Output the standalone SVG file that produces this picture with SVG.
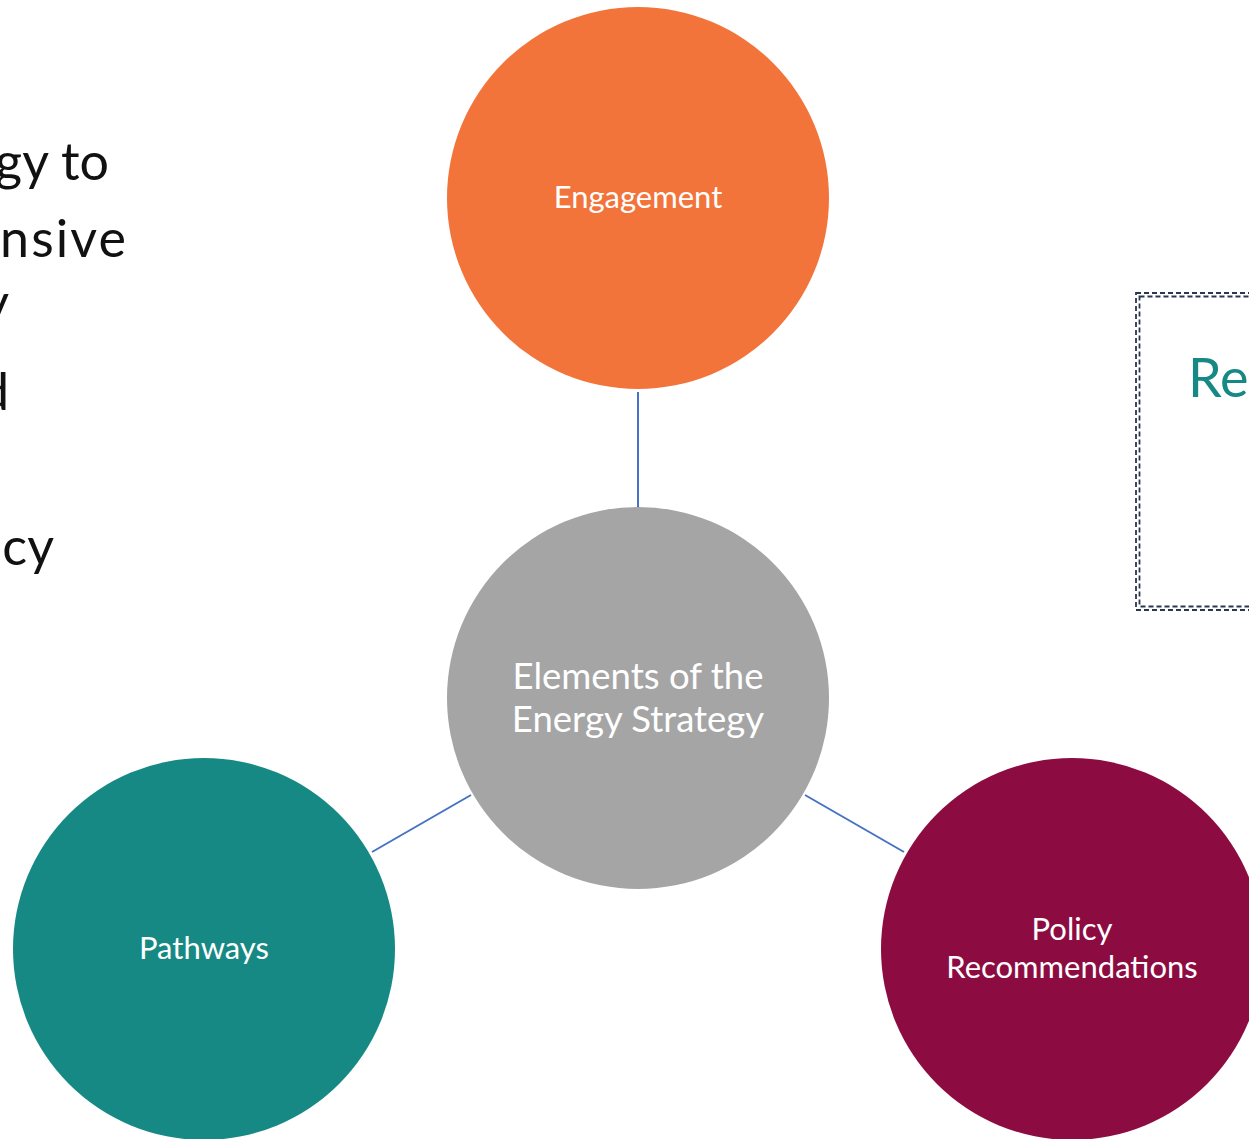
<svg xmlns="http://www.w3.org/2000/svg" width="1249" height="1139" viewBox="0 0 1249 1139">
<style>
.node-label{font-family:Lato,"Open Sans","Liberation Sans",sans-serif;fill:#ffffff;text-anchor:middle}
.body{font-family:Lato,"Open Sans","Liberation Sans",sans-serif;fill:#111111;font-size:52px}
.conn{stroke:#4472C4;stroke-width:2;fill:none}
.dash{fill:none;stroke:#2B3650;stroke-width:1.8;stroke-dasharray:5 3}
</style>
<rect width="1249" height="1139" fill="#ffffff"/>
<g id="left-text">
<text class="body" x="109" y="180" text-anchor="end">gy to</text>
<text class="body" x="0" y="257" textLength="126" lengthAdjust="spacing">nsive</text>
<text class="body" x="9" y="321" text-anchor="end">y</text>
<text class="body" x="9" y="410" text-anchor="end">d</text>
<text class="body" x="54" y="565" text-anchor="end">cy</text>
</g>
<g id="dashed-box">
<rect class="dash" x="1136" y="293" width="140" height="317"/>
<rect class="dash" x="1139.5" y="296.5" width="140" height="310"/>
<text x="1188" y="397" font-family="Lato,'Open Sans','Liberation Sans',sans-serif" font-size="54" fill="#178984">Re</text>
</g>
<g id="connectors">
<line class="conn" x1="638" y1="392" x2="638" y2="507"/>
<line class="conn" x1="471" y1="795" x2="372" y2="852"/>
<line class="conn" x1="805" y1="795" x2="904" y2="852"/>
</g>
<g id="engagement">
<circle cx="638" cy="198" r="191" fill="#F2743B"/>
<text class="node-label" x="638" y="208" font-size="31">Engagement</text>
</g>
<g id="center">
<circle cx="638" cy="698" r="191" fill="#A5A5A5"/>
<text class="node-label" x="638" y="689" font-size="36.5">Elements of the</text>
<text class="node-label" x="638" y="732" font-size="36.5">Energy Strategy</text>
</g>
<g id="pathways">
<circle cx="204" cy="949" r="191" fill="#178984"/>
<text class="node-label" x="204" y="959" font-size="31">Pathways</text>
</g>
<g id="policy">
<circle cx="1072" cy="949" r="191" fill="#8C0C42"/>
<text class="node-label" x="1072" y="940" font-size="31">Policy</text>
<text class="node-label" x="1072" y="978" font-size="31">Recommendations</text>
</g>
</svg>
